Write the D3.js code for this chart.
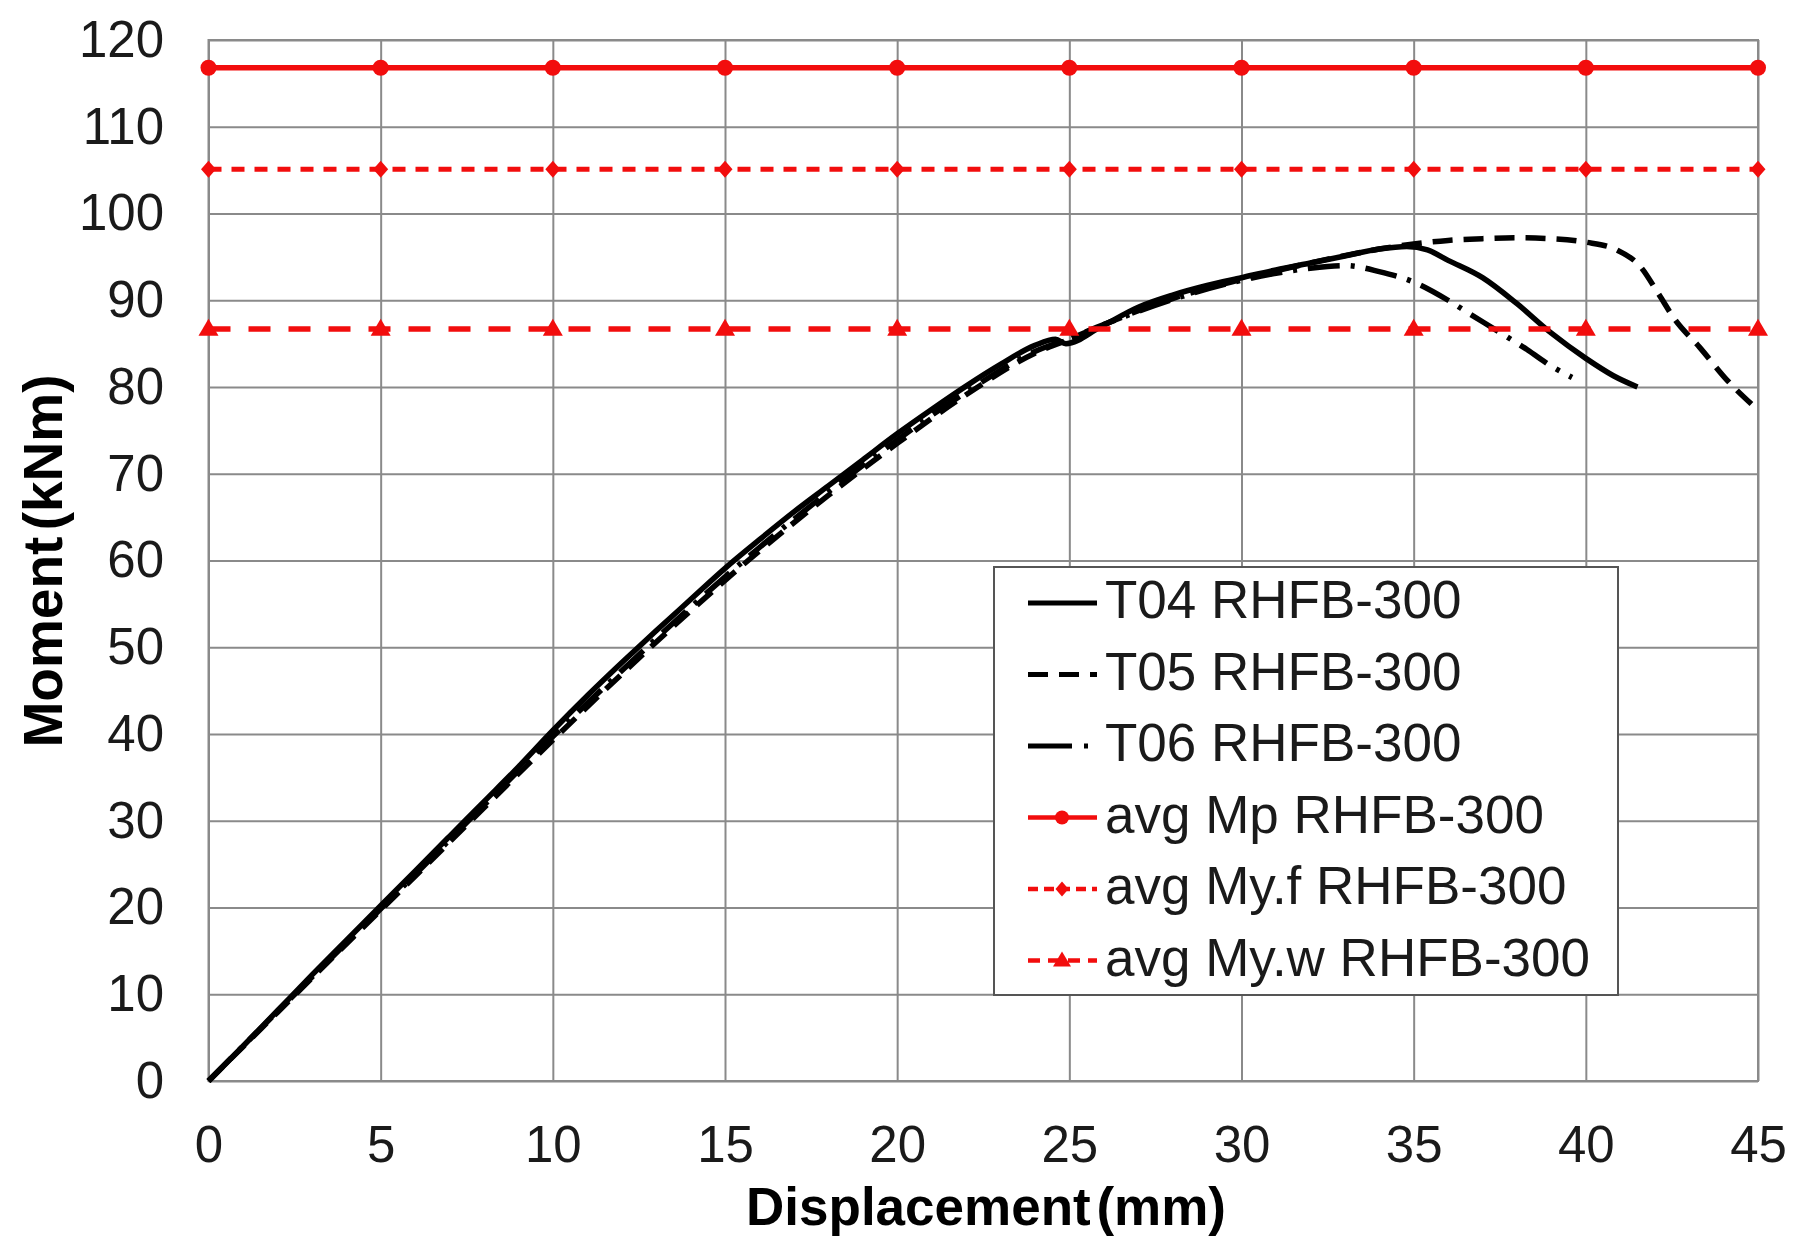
<!DOCTYPE html>
<html>
<head>
<meta charset="utf-8">
<script src="https://cdn.jsdelivr.net/npm/d3@7/dist/d3.min.js"></script>
<style>
  html, body { margin: 0; padding: 0; background: #fff; }
  svg { display: block; font-family: "Liberation Sans", Arial, sans-serif; }
</style>
</head>
<body>
<svg id="chart" width="1796" height="1240"></svg>
<script>
// Moment–displacement response of the RHFB-300 specimens

const xTicks = [0, 5, 10, 15, 20, 25, 30, 35, 40, 45];
const yTicks = [0, 10, 20, 30, 40, 50, 60, 70, 80, 90, 100, 110, 120];

// Test curves: [displacement (mm), moment (kNm)]
const t04 = [[0,0],[1,4],[2,8.1],[3,12.2],[4,16.2],[5,20.2],[6,24.2],[7,28.2],[8,32.2],[9,36.2],[10,40.4],
  [11,44.4],[12,48.2],[13,51.9],[14,55.5],[15,59.1],[16,62.4],[17,65.6],[18,68.6],[19,71.6],[20,74.6],
  [21,77.4],[22,80.1],[23,82.6],[24,84.8],[24.6,85.5],[24.9,85.0],[25.9,86.9],[27,89.2],[28,90.6],
  [29,91.7],[30,92.6],[31,93.5],[32,94.3],[33,95.1],[34,95.9],[34.8,96.2],[35.4,95.8],[36,94.6],
  [37,92.6],[38,89.6],[39,86.2],[40,83.3],[40.8,81.3],[41.5,80.0]];

const t05 = [[0,0],[2,7.9],[4,15.8],[6,23.6],[8,31.5],[10,39.3],[12,46.9],[14,54.2],[16,61.1],[18,67.5],
  [20,73.5],[22,79.1],[24,83.9],[25,85.5],[26,87.2],[28,90.2],[30,92.4],[32,94.3],[34,95.9],[35,96.5],
  [36,96.9],[37,97.1],[38,97.2],[39,97.1],[40,96.7],[40.9,95.8],[41.6,93.8],[42.1,90.8],[42.6,87.7],
  [43.3,84.6],[44.1,80.8],[44.9,77.7]];

const t06 = [[0,0],[2,8],[4,15.9],[6,23.8],[8,31.8],[10,39.7],[12,47.3],[14,54.6],[16,61.5],[18,67.9],
  [20,73.9],[22,79.4],[24,84.1],[25,85.6],[26,87.2],[28,90.1],[30,92.3],[31,93.1],[32,93.7],[33,94.0],
  [34,93.3],[35,92.1],[36,90.0],[36.6,88.5],[37.5,86.3],[38.3,84.3],[39.0,82.4],[39.6,81.1]];

// Average reference capacities (kNm), drawn across the marker positions
const refX = [0, 5, 10, 15, 20, 25, 30, 35, 40, 45];
const avgMp = 116.8;
const avgMyf = 105.1;
const avgMyw = 86.7;

const seriesNames = ["T04 RHFB-300", "T05 RHFB-300", "T06 RHFB-300",
  "avg Mp RHFB-300", "avg My.f RHFB-300", "avg My.w RHFB-300"];

const svg = d3.select("#chart");
const padL = 208.5, padR = 1758, padT = 40, padB = 1081;
const W = padR - padL, H = padB - padT;
const RED = "#f20d0d";
const GRID = "#8a8a8a";

const x = d3.scaleLinear().domain([0, 45]).range([0, W]);
const y = d3.scaleLinear().domain([0, 120]).range([H, 0]);

svg.append("rect").attr("width", 1796).attr("height", 1240).attr("fill", "#fff");

const g = svg.append("g").attr("transform", `translate(${padL},${padT})`);

// gridlines + tick labels
const yAxis = g.append("g")
  .call(d3.axisLeft(y).tickValues(yTicks).tickSize(-W).tickPadding(44.5));
const xAxis = g.append("g").attr("transform", `translate(0,${H})`)
  .call(d3.axisBottom(x).tickValues(xTicks).tickSize(-H).tickPadding(45));
[yAxis, xAxis].forEach(a => {
  a.select(".domain").remove();
  a.selectAll(".tick line").attr("stroke", GRID).attr("stroke-width", 2);
  a.selectAll(".tick text").attr("fill", "#1a1a1a").style("font-size", "51px")
    .style("font-family", "'Liberation Sans', Arial, sans-serif");
});
g.append("rect").attr("width", W).attr("height", H)
  .attr("fill", "none").attr("stroke", GRID).attr("stroke-width", 2);

// test curves
const line = d3.line().x(d => x(d[0])).y(d => y(d[1])).curve(d3.curveMonotoneX);
const curveStyles = [
  { data: t04, dash: null },
  { data: t05, dash: "20,11" },
  { data: t06, dash: "32,11,4,11" }
];
curveStyles.forEach(s => {
  g.append("path").datum(s.data).attr("d", line)
    .attr("fill", "none").attr("stroke", "#000").attr("stroke-width", 5.5)
    .attr("stroke-linejoin", "round")
    .attr("stroke-dasharray", s.dash);
});

// marker shapes
function diamond(cx, cy, hw, hh) {
  return `M${cx},${cy - hh}L${cx + hw},${cy}L${cx},${cy + hh}L${cx - hw},${cy}Z`;
}
function triangle(cx, cy, hw, h) {
  return `M${cx},${cy - h * 0.6}L${cx + hw},${cy + h * 0.4}L${cx - hw},${cy + h * 0.4}Z`;
}

// average capacity reference lines
const refs = [
  { v: avgMp, dash: null, width: 5.5, marker: "circle" },
  { v: avgMyf, dash: "13,10", width: 5, marker: "diamond" },
  { v: avgMyw, dash: "22,18", width: 5.5, marker: "triangle" }
];
const flat = d3.line().x(d => x(d[0])).y(d => y(d[1]));
refs.forEach(r => {
  const pts = refX.map(v => [v, r.v]);
  g.append("path").datum(pts).attr("d", flat)
    .attr("fill", "none").attr("stroke", RED).attr("stroke-width", r.width)
    .attr("stroke-dasharray", r.dash);
  pts.forEach(p => {
    const cx = x(p[0]), cy = y(p[1]);
    if (r.marker === "circle") {
      g.append("circle").attr("cx", cx).attr("cy", cy).attr("r", 8).attr("fill", RED);
    } else if (r.marker === "diamond") {
      g.append("path").attr("d", diamond(cx, cy, 7.5, 8.5)).attr("fill", RED);
    } else {
      g.append("path").attr("d", triangle(cx, cy, 10, 17)).attr("fill", RED);
    }
  });
});

// axis titles
svg.append("text").attr("x", 986).attr("y", 1225).attr("text-anchor", "middle")
  .style("font-size", "53px").style("font-weight", "bold").style("word-spacing", "-9px")
  .attr("fill", "#000").text("Displacement (mm)");
svg.append("text").attr("transform", "translate(62,561) rotate(-90)").attr("text-anchor", "middle")
  .style("font-size", "55px").style("font-weight", "bold").style("word-spacing", "-9px")
  .attr("fill", "#000").text("Moment (kNm)");

// legend
const lg = svg.append("g");
lg.append("rect").attr("x", 994).attr("y", 567).attr("width", 624).attr("height", 428)
  .attr("fill", "#fff").attr("stroke", "#555").attr("stroke-width", 2);
const legendItems = [
  { color: "#000", dash: null, w: 5, marker: null },
  { color: "#000", dash: "20,11", w: 5, marker: null },
  { color: "#000", dash: "44,12,4,12", w: 5, marker: null },
  { color: RED, dash: null, w: 4.5, marker: "circle" },
  { color: RED, dash: "10,6", w: 4.5, marker: "diamond" },
  { color: RED, dash: "12,8", w: 4.5, marker: "triangle" }
];
legendItems.forEach((it, i) => {
  const base = 618 + i * 71.5;
  const ly = base - 15;
  lg.append("line").attr("x1", 1028).attr("x2", 1097).attr("y1", ly).attr("y2", ly)
    .attr("stroke", it.color).attr("stroke-width", it.w).attr("stroke-dasharray", it.dash);
  if (it.marker === "circle") lg.append("circle").attr("cx", 1062).attr("cy", ly).attr("r", 7).attr("fill", RED);
  if (it.marker === "diamond") lg.append("path").attr("d", diamond(1062, ly, 6.5, 7.5)).attr("fill", RED);
  if (it.marker === "triangle") lg.append("path").attr("d", triangle(1062, ly, 9, 15)).attr("fill", RED);
  lg.append("text").attr("x", 1105).attr("y", base).style("font-size", "53px")
    .attr("fill", "#1a1a1a").text(seriesNames[i]);
});
</script>
</body>
</html>
